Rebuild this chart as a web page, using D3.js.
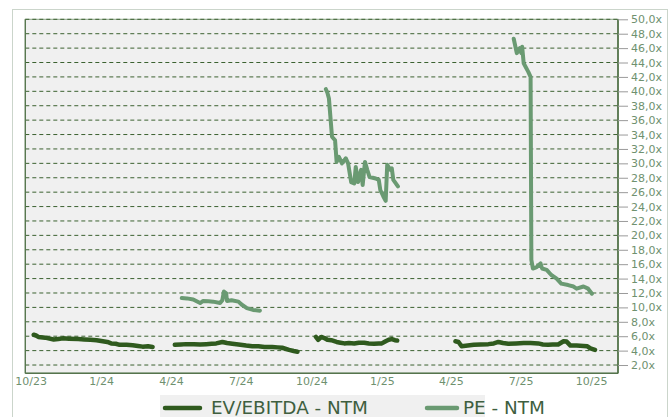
<!DOCTYPE html>
<html>
<head>
<meta charset="utf-8">
<script src="https://cdn.jsdelivr.net/npm/d3@7"></script>
<style>
  html, body { margin: 0; padding: 0; background: #ffffff; }
  svg { display: block; }
  text { font-family: "DejaVu Sans", sans-serif; }
</style>
</head>
<body>
<svg id="chart" width="670" height="417"></svg>
<script>
// EV/EBITDA - NTM multiple (null marks a gap in coverage)
const evDates = [
  "2023-10-05","2023-10-08","2023-10-11","2023-10-20","2023-10-31","2023-11-06","2023-11-12",
  "2023-11-20","2023-12-02","2023-12-10","2023-12-18","2023-12-26","2024-01-03","2024-01-09",
  "2024-01-14","2024-01-20","2024-01-25","2024-02-03","2024-02-11","2024-02-18","2024-02-24",
  "2024-03-02","2024-03-08",
  "2024-03-20",
  "2024-04-06","2024-04-14","2024-04-21","2024-05-01","2024-05-09","2024-05-17","2024-05-24",
  "2024-05-30","2024-06-07","2024-06-13","2024-06-20","2024-06-28","2024-07-08","2024-07-16",
  "2024-07-24","2024-08-01","2024-08-11","2024-08-18","2024-08-24","2024-09-02","2024-09-08",
  "2024-09-13",
  "2024-09-28",
  "2024-10-07","2024-10-10","2024-10-14","2024-10-18","2024-10-22","2024-10-27","2024-11-03",
  "2024-11-08","2024-11-13","2024-11-19","2024-11-26","2024-12-02","2024-12-09","2024-12-15",
  "2024-12-22","2024-12-28","2025-01-01","2025-01-06","2025-01-10","2025-01-14","2025-01-18",
  "2025-01-21",
  "2025-03-10",
  "2025-04-07","2025-04-11","2025-04-15","2025-04-23","2025-05-01","2025-05-10","2025-05-20",
  "2025-05-27","2025-06-02","2025-06-08","2025-06-15","2025-06-25","2025-07-05","2025-07-14",
  "2025-07-24","2025-07-30","2025-08-06","2025-08-12","2025-08-19","2025-08-26","2025-08-30",
  "2025-09-04","2025-09-12","2025-09-21","2025-09-26","2025-09-30","2025-10-06"
];
const evValues = [
  6.2, 6.1, 5.9, 5.8, 5.55, 5.6, 5.7,
  5.65, 5.6, 5.55, 5.5, 5.45, 5.3, 5.2,
  5.0, 4.95, 4.8, 4.8, 4.75, 4.65, 4.55,
  4.6, 4.5,
  null,
  4.8, 4.85, 4.9, 4.9, 4.85, 4.9, 4.95,
  5.0, 5.2, 5.05, 4.95, 4.85, 4.7, 4.6,
  4.6, 4.5, 4.5, 4.45, 4.4, 4.1, 3.95,
  3.85,
  null,
  5.9, 5.5, 5.9, 5.75, 5.5, 5.45, 5.2,
  5.1, 5.0, 5.05, 5.0, 5.1, 5.1, 5.0,
  4.95, 5.0, 5.0, 5.3, 5.5, 5.6, 5.45,
  5.4,
  null,
  5.3, 5.2, 4.6, 4.7, 4.8, 4.85, 4.9,
  5.0, 5.2, 5.05, 4.95, 5.0, 5.05, 5.05,
  5.0, 4.85, 4.8, 4.85, 4.85, 5.3, 5.25,
  4.7, 4.7, 4.65, 4.6, 4.3, 4.1
];

// PE - NTM multiple (null marks a gap in coverage)
const peDates = [
  "2024-04-15","2024-04-22","2024-04-30","2024-05-09","2024-05-13","2024-05-20","2024-05-26",
  "2024-06-04","2024-06-07","2024-06-09","2024-06-12","2024-06-13","2024-06-19","2024-06-28",
  "2024-07-02","2024-07-09","2024-07-17","2024-07-26",
  "2024-09-01",
  "2024-10-20","2024-10-22","2024-10-24","2024-10-28","2024-11-01","2024-11-03","2024-11-06",
  "2024-11-10","2024-11-15","2024-11-18","2024-11-22","2024-11-26","2024-11-28","2024-12-01",
  "2024-12-05","2024-12-07","2024-12-10","2024-12-13","2024-12-16","2024-12-20","2024-12-24",
  "2024-12-28","2024-12-30","2025-01-03","2025-01-06","2025-01-08","2025-01-12","2025-01-14",
  "2025-01-16","2025-01-22",
  "2025-04-01",
  "2025-06-22","2025-06-26","2025-06-30","2025-07-02","2025-07-03","2025-07-05","2025-07-11",
  "2025-07-14","2025-07-15","2025-07-17","2025-07-22","2025-07-27","2025-07-29","2025-08-04",
  "2025-08-10","2025-08-17","2025-08-23","2025-09-01","2025-09-08","2025-09-12","2025-09-21",
  "2025-09-27","2025-10-02"
];
const peValues = [
  11.3, 11.25, 11.1, 10.6, 10.9, 10.85, 10.8,
  10.6, 11.0, 12.2, 11.95, 10.9, 11.0, 10.8,
  10.4, 9.9, 9.65, 9.55,
  null,
  40.3, 39.8, 39.0, 33.7, 33.2, 30.2, 30.9,
  30.0, 30.7, 30.0, 27.4, 27.2, 29.5, 27.4,
  29.1, 27.0, 30.2, 29.1, 28.1, 28.0, 27.9,
  27.7, 26.3, 25.4, 24.8, 29.8, 29.1, 29.3,
  27.7, 26.8,
  null,
  47.3, 45.3, 46.0, 45.3, 46.2, 43.9, 42.7,
  42.0, 16.6, 15.4, 15.6, 16.1, 15.4, 15.2,
  14.5, 14.0, 13.3, 13.1, 12.9, 12.6, 12.9,
  12.6, 11.9
];

// Axis ticks
const xTickDates = ["2023-10-01","2024-01-01","2024-04-01","2024-07-01","2024-10-01",
                    "2025-01-01","2025-04-01","2025-07-01","2025-10-01"];
const yTickValues = [2,4,6,8,10,12,14,16,18,20,22,24,26,28,30,32,34,36,38,40,42,44,46,48,50];

const seriesNames = ["EV/EBITDA - NTM", "PE - NTM"];
const colors = { ev: "#2f5a1e", pe: "#6a9a72" };

const parse = d3.timeParse("%Y-%m-%d");
const toPoints = (dates, values) => dates.map((d, i) => ({ date: parse(d), v: values[i] }));
const evData = toPoints(evDates, evValues);
const peData = toPoints(peDates, peValues);

const svg = d3.select("#chart");

const plot = { left: 25.3, top: 19.3, right: 618, bottom: 373.3 };

const x = d3.scaleTime()
  .domain([parse("2023-09-24"), parse("2025-11-05")])
  .range([plot.left, plot.right]);
const y = d3.scaleLinear()
  .domain([0.85, 50])
  .range([plot.bottom, plot.top]);

// outer frame
svg.append("rect")
  .attr("x", 12.5).attr("y", 9.5)
  .attr("width", 655).attr("height", 430)
  .attr("fill", "none")
  .attr("stroke", "#cbd5cb")
  .attr("stroke-width", 1);

// plot background
svg.append("rect")
  .attr("x", plot.left).attr("y", plot.top)
  .attr("width", plot.right - plot.left)
  .attr("height", plot.bottom - plot.top)
  .attr("fill", "#f0f0f0")
  .attr("stroke", "#8fa88a")
  .attr("stroke-width", 1);

// dashed horizontal gridlines
svg.append("g")
  .selectAll("line")
  .data(yTickValues)
  .join("line")
  .attr("x1", plot.left).attr("x2", plot.right)
  .attr("y1", d => y(d)).attr("y2", d => y(d))
  .attr("stroke", "#3b6130")
  .attr("stroke-width", 1)
  .attr("stroke-dasharray", "4,3");

// plot borders: left, bottom, right
const border = svg.append("g").attr("stroke", "#55744c").attr("fill", "none");
border.append("line").attr("x1", plot.left).attr("x2", plot.left)
  .attr("y1", plot.top).attr("y2", plot.bottom).attr("stroke-width", 1.3);
border.append("line").attr("x1", plot.left).attr("x2", plot.right)
  .attr("y1", plot.bottom).attr("y2", plot.bottom).attr("stroke-width", 1.5);
border.append("line").attr("x1", plot.right).attr("x2", plot.right)
  .attr("y1", plot.top).attr("y2", plot.bottom).attr("stroke-width", 1.6)
  .attr("stroke", "#4a6b40");

// right value axis
const yAxis = d3.axisRight(y)
  .tickValues(yTickValues)
  .tickSize(10)
  .tickPadding(3)
  .tickFormat(d => d3.format(".1f")(d).replace(".", ",") + "x");
const yg = svg.append("g")
  .attr("transform", `translate(${plot.right},0)`)
  .call(yAxis);
yg.select(".domain").remove();
yg.selectAll(".tick line").attr("stroke", "#9a9a9a");
yg.selectAll(".tick text")
  .attr("fill", "#6f916f")
  .style("font-size", "11px");

// bottom date axis
const xAxis = d3.axisBottom(x)
  .tickValues(xTickDates.map(parse))
  .tickSize(0)
  .tickPadding(4)
  .tickFormat(d3.timeFormat("%-m/%y"));
const xg = svg.append("g")
  .attr("transform", `translate(0,${plot.bottom})`)
  .call(xAxis);
xg.select(".domain").remove();
xg.selectAll(".tick text")
  .attr("fill", "#6f916f")
  .style("font-size", "11px");

// series lines
const line = d3.line()
  .defined(d => d.v !== null)
  .x(d => x(d.date))
  .y(d => y(d.v));

svg.append("path")
  .datum(evData)
  .attr("d", line)
  .attr("fill", "none")
  .attr("stroke", colors.ev)
  .attr("stroke-width", 4.5)
  .attr("stroke-linejoin", "round")
  .attr("stroke-linecap", "round");

svg.append("path")
  .datum(peData)
  .attr("d", line)
  .attr("fill", "none")
  .attr("stroke", colors.pe)
  .attr("stroke-width", 4)
  .attr("stroke-linejoin", "round")
  .attr("stroke-linecap", "round");

// legend
const legend = svg.append("g");
legend.append("rect")
  .attr("x", 160).attr("y", 395)
  .attr("width", 325).attr("height", 24)
  .attr("fill", "#f0f0f0");

const legendItems = [
  { name: seriesNames[0], color: colors.ev, x1: 165, x2: 200, tx: 211, w: 4.5 },
  { name: seriesNames[1], color: colors.pe, x1: 427, x2: 457, tx: 463, w: 4.5 }
];
legendItems.forEach(it => {
  legend.append("line")
    .attr("x1", it.x1).attr("x2", it.x2)
    .attr("y1", 408).attr("y2", 408)
    .attr("stroke", it.color)
    .attr("stroke-width", it.w)
    .attr("stroke-linecap", "round");
  legend.append("text")
    .attr("x", it.tx).attr("y", 413.5)
    .attr("fill", "#3f5f3f")
    .style("font-size", "18.4px")
    .text(it.name);
});
</script>
</body>
</html>
